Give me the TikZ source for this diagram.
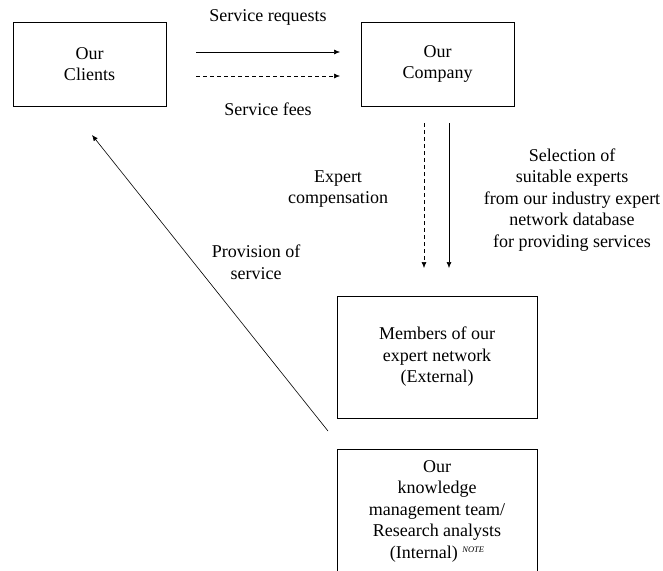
\documentclass[tikz,border=0pt]{standalone}
\usepackage{fontspec}
\setmainfont{Liberation Serif}
\usetikzlibrary{arrows.meta}
\newcommand\bodyfont{\fontsize{18}{21.5}\selectfont}
\tikzset{
  box/.style={draw, line width=0.6pt, align=center, inner sep=0pt, font=\bodyfont},
  lbl/.style={align=center, inner sep=0pt, font=\bodyfont},
  arr/.style={line width=0.6pt, -{Latex[length=6pt,width=5pt]}},
  darr/.style={arr, dash pattern=on 4pt off 3pt},
}
\begin{document}
\begin{tikzpicture}[x=1pt,y=-1pt]
\useasboundingbox (0,0) rectangle (663,570);
\begin{scope}
\clip (0,0) rectangle (663,570);

% boxes
\node[box, minimum width=153pt, minimum height=84pt] (clients) at (89.5,64) {Our\\Clients};
\node[box, minimum width=153pt, minimum height=84pt] (company) at (437.5,64) {Our\\Company};
\node[box, minimum width=200pt, minimum height=122pt] (members) at (437,357) {Members of our\\expert network\\(External)};
\node[box, minimum width=200pt, minimum height=124pt] (team) at (437,511)
  {Our\\knowledge\\management team/\\Research analysts\\(Internal) \raisebox{6pt}{\fontsize{8.5}{9}\selectfont\itshape NOTE}};

% free ends of the connectors
\coordinate (reqS) at (196,52);
\coordinate (reqE) at (340,52);
\coordinate (feeS) at (196,76);
\coordinate (feeE) at (340,76);
\coordinate (compS) at (424,123);
\coordinate (compE) at (424,268);
\coordinate (selS) at (449,123);
\coordinate (selE) at (449,268);
\coordinate (provS) at (328,431);
\coordinate (provE) at (92,135);

% connectors
\draw[arr] (reqS) -- (reqE);
\draw[darr] (feeS) -- (feeE);
\draw[darr] (compS) -- (compE);
\draw[arr] (selS) -- (selE);
\draw[arr] (provS) -- (provE);

% labels
\node[lbl] (lreq) at (268,17) {Service requests};
\node[lbl] (lfee) at (268,109) {Service fees};
\node[lbl] (lcomp) at (338,189) {Expert\\compensation};
\node[lbl] (lsel) at (572,200) {Selection of\\suitable experts\\from our industry expert\\network database\\for providing services};
\node[lbl] (lprov) at (256,262) {Provision of\\service};
\end{scope}
\end{tikzpicture}
\end{document}
